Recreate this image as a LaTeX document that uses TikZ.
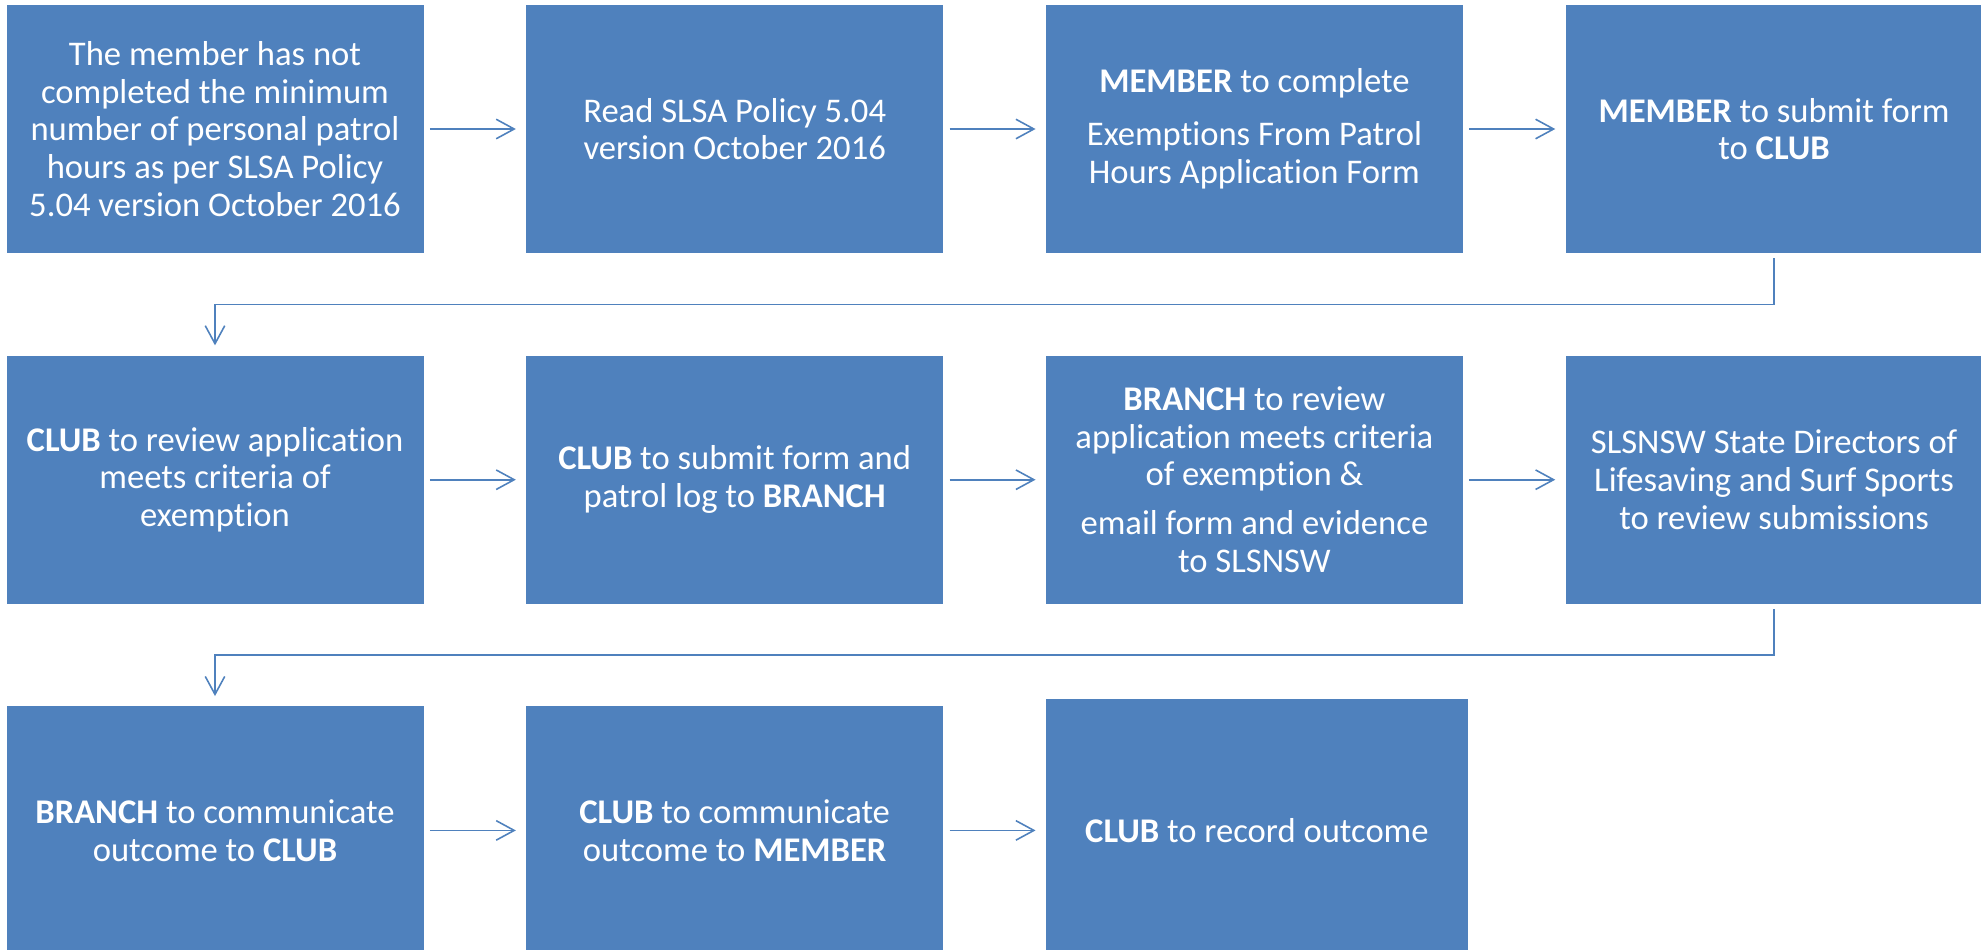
\documentclass[tikz,border=0pt]{standalone}
\usepackage{fontspec}
\setmainfont[Ligatures=NoCommon]{Carlito}
\usepackage{xcolor}
\usetikzlibrary{positioning}
\usetikzlibrary{arrows.meta}

\definecolor{boxblue}{HTML}{4F81BD}
\tikzset{
  task/.style={fill=boxblue, text=white, minimum width=8.34cm, minimum height=4.96cm,
    inner sep=0pt, align=center, font=\fontsize{19.7}{21.5}\selectfont},
  flow/.style={draw=boxblue, line width=0.9pt, -{Straight Barb[length=3.6mm,width=3.9mm]},
    shorten <=0.12cm, shorten >=0.2cm}
}

\begin{document}
\begin{tikzpicture}[node distance=2.04cm]
  % Page frame
  \useasboundingbox (0,0) rectangle (39.62,-18.98);

  % First row
  \node[task] (notdone) at (4.3,-2.58) {The member has not\\completed the minimum\\number of personal patrol\\hours as per SLSA Policy\\5.04 version October 2016};
  \node[task, right=of notdone] (readpolicy) {Read SLSA Policy 5.04\\version October 2016};
  \node[task, right=of readpolicy] (fillform) {\textbf{MEMBER} to complete\\[0.3cm]Exemptions From Patrol\\Hours Application Form};
  \node[task, right=of fillform] (submitform) {\textbf{MEMBER} to submit form\\to \textbf{CLUB}};

  % Second row
  \node[task, below=of notdone] (clubreview) {\textbf{CLUB} to review application\\meets criteria of\\exemption};
  \node[task, right=of clubreview] (clubsubmit) {\textbf{CLUB} to submit form and\\patrol log to \textbf{BRANCH}};
  \node[task, right=of clubsubmit] (branchreview) {\textbf{BRANCH} to review\\application meets criteria\\of exemption \&\\[0.22cm]email form and evidence\\to SLSNSW};
  \node[task, right=of branchreview] (statereview) {SLSNSW State Directors of\\Lifesaving and Surf Sports\\to review submissions};

  % Third row
  \node[task, below=of clubreview] (branchtell) {\textbf{BRANCH} to communicate\\outcome to \textbf{CLUB}};
  \node[task, right=of branchtell] (clubtell) {\textbf{CLUB} to communicate\\outcome to \textbf{MEMBER}};
  \node[task, right=of clubtell, minimum width=8.44cm, minimum height=5.24cm] (clubrecord) {\textbf{CLUB} to record outcome};

  % Arrows along each row
  \draw[flow] (notdone) -- (readpolicy);
  \draw[flow] (readpolicy) -- (fillform);
  \draw[flow] (fillform) -- (submitform);
  \draw[flow] (clubreview) -- (clubsubmit);
  \draw[flow] (clubsubmit) -- (branchreview);
  \draw[flow] (branchreview) -- (statereview);
  \draw[flow] (branchtell) -- (clubtell);
  \draw[flow] (clubtell) -- (clubrecord);

  % Wrap to the next row
  \draw[flow, shorten <=0.1cm] (submitform.south) -- ++(0,-1.02) -| (clubreview.north);
  \draw[flow, shorten <=0.1cm] (statereview.south) -- ++(0,-1.02) -| (branchtell.north);
\end{tikzpicture}
\end{document}
